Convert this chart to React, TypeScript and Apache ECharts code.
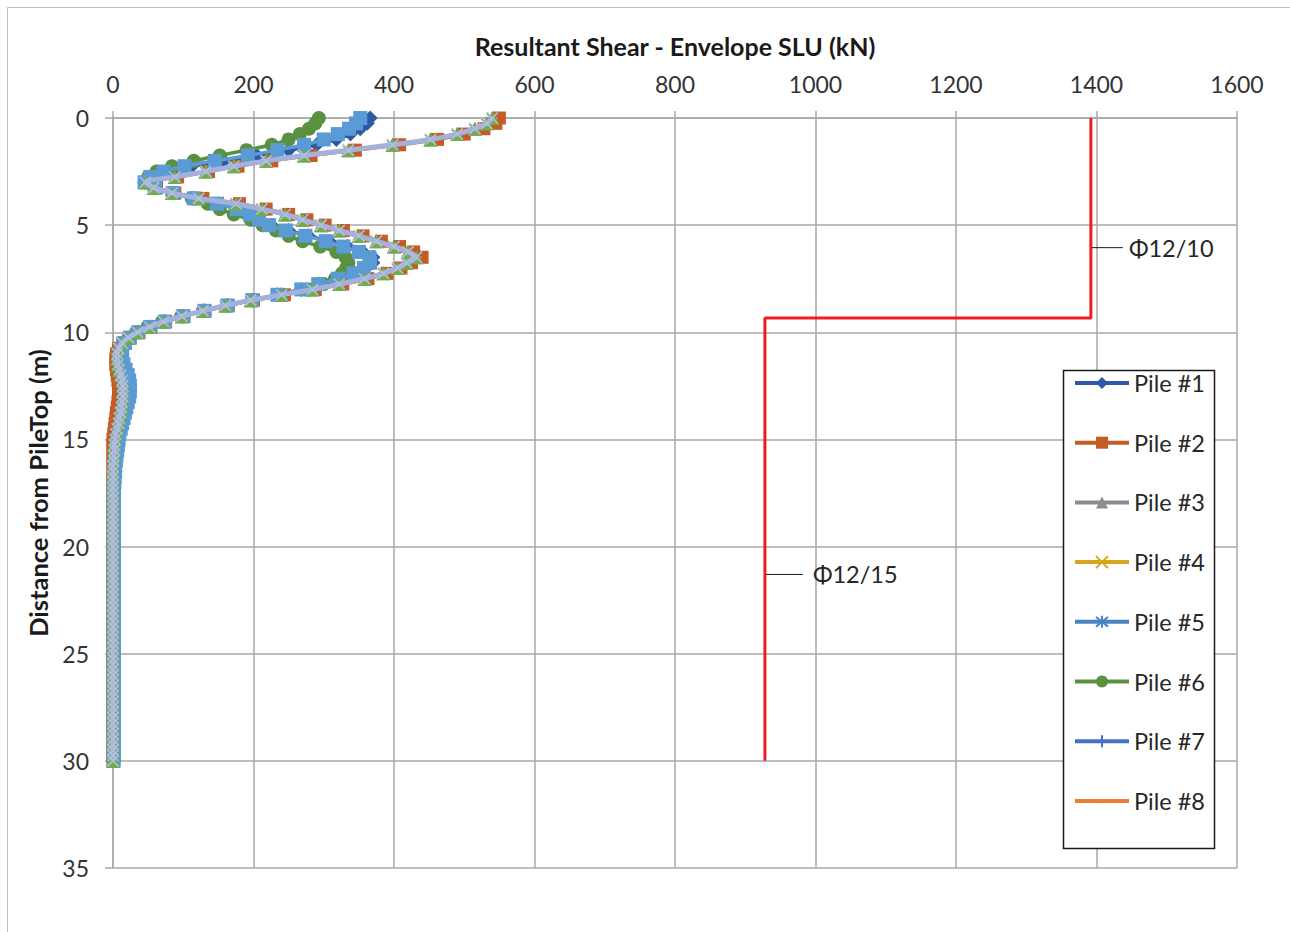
import React, { useEffect, useRef } from "react";
import * as echarts from "echarts";

// Depth below pile top (m)
const depth = [
  0, 0.25, 0.5, 0.75, 1, 1.25, 1.5, 1.75, 2, 2.25, 2.5, 2.75, 3,
  3.25, 3.5, 3.75, 4, 4.25, 4.5, 4.75, 5, 5.25, 5.5, 5.75, 6,
  6.25, 6.5, 6.75, 7, 7.25, 7.5, 7.75, 8, 8.25, 8.5, 8.75, 9,
  9.25, 9.5, 9.75, 10, 10.25, 10.5, 10.75, 11, 11.25, 11.5, 11.75, 12,
  12.25, 12.5, 12.75, 13, 13.25, 13.5, 13.75, 14, 14.25, 14.5, 14.75, 15,
  15.25, 15.5, 15.75, 16, 16.25, 16.5, 16.75, 17, 17.25, 17.5, 17.75, 18,
  18.25, 18.5, 18.75, 19, 19.25, 19.5, 19.75, 20, 20.25, 20.5, 20.75, 21,
  21.25, 21.5, 21.75, 22, 22.25, 22.5, 22.75, 23, 23.25, 23.5, 23.75, 24,
  24.25, 24.5, 24.75, 25, 25.25, 25.5, 25.75, 26, 26.25, 26.5, 26.75, 27,
  27.25, 27.5, 27.75, 28, 28.25, 28.5, 28.75, 29, 29.25, 29.5, 29.75, 30,
];

// Resultant shear (kN) per pile
const shearPile1 = [
  366, 362, 352, 338, 318, 290, 250, 205, 158, 112, 78, 55, 45,
  60, 86, 117, 150, 178, 197, 210, 226, 250, 278, 308, 334,
  356, 370, 370, 360, 344, 322, 294, 268, 234, 198, 163, 130,
  100, 74, 53, 36, 24, 17, 13, 12, 13, 15, 18, 21,
  23, 24, 24, 23, 21, 19, 17, 15, 13, 11, 9, 8,
  7, 6, 5, 4, 3, 3, 2, 2, 1, 1, 1, 1,
  1, 1, 1, 1, 1, 1, 1, 1, 1, 1, 1, 1,
  1, 1, 1, 1, 1, 1, 1, 1, 1, 1, 1, 1,
  1, 1, 1, 1, 1, 1, 1, 1, 1, 1, 1, 1,
  1, 1, 1, 1, 1, 1, 1, 1, 1, 1, 1, 1,
];
const shearPile2 = [
  550, 545, 528, 500, 462, 408, 345, 282, 226, 178, 136, 92, 50,
  62, 88, 128, 180, 218, 250, 276, 302, 328, 356, 382, 408,
  428, 440, 425, 410, 390, 363, 327, 288, 244, 200, 164, 131,
  101, 75, 54, 37, 24, 14, 8, 5, 4, 4, 5, 6,
  7, 8, 8, 8, 7, 6, 5, 4, 3, 2, 1, 0,
  0, 0, 0, 0, 0, 0, 0, 0, 0, 0, 0, 0,
  0, 0, 0, 0, 0, 0, 0, 0, 0, 0, 0, 0,
  0, 0, 0, 0, 0, 0, 0, 0, 0, 0, 0, 0,
  0, 0, 0, 0, 0, 0, 0, 0, 0, 0, 0, 0,
  0, 0, 0, 0, 0, 0, 0, 0, 0, 0, 0, 0,
];
const shearPile3 = [
  540, 532, 515, 490, 452, 398, 335, 272, 218, 172, 132, 88, 46,
  58, 84, 122, 175, 212, 245, 270, 296, 322, 350, 375, 400,
  420, 432, 418, 405, 385, 358, 322, 284, 240, 196, 160, 128,
  98, 72, 52, 35, 22, 13, 8, 6, 6, 7, 9, 11,
  13, 14, 14, 14, 13, 12, 11, 9, 8, 6, 4, 3,
  2, 2, 1, 1, 0, 0, 0, 0, 0, 0, 0, 0,
  0, 0, 0, 0, 0, 0, 0, 0, 0, 0, 0, 0,
  0, 0, 0, 0, 0, 0, 0, 0, 0, 0, 0, 0,
  0, 0, 0, 0, 0, 0, 0, 0, 0, 0, 0, 0,
  0, 0, 0, 0, 0, 0, 0, 0, 0, 0, 0, 0,
];
const shearPile4 = shearPile3;
const shearPile5 = shearPile3;
const shearPile6 = [
  293, 288, 279, 266, 250, 226, 190, 152, 115, 84, 62, 50, 46,
  58, 84, 112, 135, 152, 172, 196, 213, 232, 250, 270, 295,
  318, 331, 335, 332, 326, 316, 300, 278, 240, 200, 163, 128,
  97, 70, 49, 33, 22, 16, 13, 12, 13, 15, 17, 19,
  21, 22, 22, 21, 19, 17, 15, 13, 11, 9, 8, 7,
  6, 5, 4, 3, 3, 2, 2, 1, 1, 1, 1, 1,
  1, 1, 1, 1, 1, 1, 1, 1, 1, 1, 1, 1,
  1, 1, 1, 1, 1, 1, 1, 1, 1, 1, 1, 1,
  1, 1, 1, 1, 1, 1, 1, 1, 1, 1, 1, 1,
  1, 1, 1, 1, 1, 1, 1, 1, 1, 1, 1, 1,
];
const shearPile7 = shearPile3;
const shearPile8 = shearPile3;
// additional (unlabelled) piles shown in the plot
const shearPile9 = [
  352, 346, 336, 320, 300, 272, 234, 192, 145, 102, 72, 53, 45,
  60, 85, 115, 148, 176, 195, 208, 222, 246, 274, 303, 328,
  350, 365, 366, 357, 342, 320, 292, 268, 234, 198, 163, 130,
  100, 74, 53, 36, 24, 17, 13, 12, 13, 15, 18, 21,
  23, 24, 24, 23, 21, 19, 17, 15, 13, 11, 9, 8,
  7, 6, 5, 4, 3, 3, 2, 2, 1, 1, 1, 1,
  1, 1, 1, 1, 1, 1, 1, 1, 1, 1, 1, 1,
  1, 1, 1, 1, 1, 1, 1, 1, 1, 1, 1, 1,
  1, 1, 1, 1, 1, 1, 1, 1, 1, 1, 1, 1,
  1, 1, 1, 1, 1, 1, 1, 1, 1, 1, 1, 1,
];
const shearPile10 = shearPile3;
const shearPile11 = shearPile3;

// Shear resistance of stirrups (kN)
const resistX = [1392, 1392, 928, 928];
const resistDepth = [0, 9.33, 9.33, 30];
const resistLabels = ["Φ12/10", "Φ12/15"];
const resistLabelPos = [
  [1392, 6.05],
  [928, 21.3],
];

const legendNames = ["Pile #1", "Pile #2", "Pile #3", "Pile #4", "Pile #5", "Pile #6", "Pile #7", "Pile #8"];

const FONT = "Lato, 'Liberation Sans', sans-serif";
const GRID_COLOR = "#A9A9A9";

const X_SYM = "path://M0,0L10,10M10,0L0,10";
const AST_SYM = "path://M5,0L5,10M1,1L9,9M9,1L1,9";
const PLUS_SYM = "path://M5,0L5,10M0,5L10,5";
const DASH_SYM = "path://M0,0M0,4L10,4L10,6L0,6ZM10,10";

function pts(vals: number[]) {
  return vals.map((v, i) => [v, depth[i]]);
}

let order = 0;
function pileSeries(name: string, vals: number[], color: string, symbol: string, size: number, stroke = false, lineWidth = 3.5, lineColor?: string) {
  order += 1;
  return {
    name,
    type: "line",
    data: pts(vals),
    smooth: 0.3,
    symbol,
    symbolSize: size,
    lineStyle: { color: lineColor || color, width: lineWidth },
    itemStyle: stroke
      ? { color, borderColor: color, borderWidth: 1.5 }
      : { color, borderWidth: 0 },
    emphasis: { disabled: true },
    z: 2 + order * 0.05,
  };
}

export default function App() {
  const ref = useRef<HTMLDivElement>(null);
  useEffect(() => {
    order = 0;
    const chart = echarts.init(ref.current!, null, { renderer: "svg" });
    const option: any = {
      animation: false,
      backgroundColor: "#ffffff",
      grid: { left: 113, top: 118, right: 53, bottom: 64, containLabel: false },
      xAxis: {
        type: "value",
        position: "top",
        min: 0,
        max: 1600,
        interval: 200,
        axisLine: { show: true, onZero: false, lineStyle: { color: GRID_COLOR, width: 1.5 } },
        axisTick: { show: true, length: 7, lineStyle: { color: GRID_COLOR, width: 1.5 } },
        axisLabel: {
          fontSize: 23,
          color: "#333333",
          fontFamily: FONT,
          margin: 23,
          formatter: (v: number) => String(v),
        },
        splitLine: { show: true, lineStyle: { color: GRID_COLOR, width: 1.5 } },
      },
      yAxis: {
        type: "value",
        inverse: true,
        min: 0,
        max: 35,
        interval: 5,
        axisLine: { show: true, onZero: false, lineStyle: { color: GRID_COLOR, width: 1.5 } },
        axisTick: { show: true, length: 8, lineStyle: { color: GRID_COLOR, width: 1.5 } },
        axisLabel: {
          fontSize: 23,
          color: "#333333",
          fontFamily: FONT,
          margin: 24,
          formatter: (v: number) => String(v),
        },
        splitLine: { show: true, lineStyle: { color: GRID_COLOR, width: 1.5 } },
      },
      legend: {
        data: legendNames,
        orient: "vertical",
        left: 1073,
        top: 371,
        padding: 0,
        itemWidth: 54,
        itemHeight: 15,
        itemGap: 35.7,
        selectedMode: false,
        lineStyle: { width: 4 },
        textStyle: { fontSize: 23.5, color: "#262626", fontFamily: FONT },
        z: 6,
      },
      series: [
        pileSeries("Pile #1", shearPile1, "#2F5AA3", "diamond", 15),
        pileSeries("Pile #2", shearPile2, "#C65B24", "rect", 13),
        pileSeries("Pile #3", shearPile3, "#8C8C8C", "triangle", 14),
        pileSeries("Pile #4", shearPile4, "#D9A520", X_SYM, 11, true),
        pileSeries("Pile #5", shearPile5, "#4A84C4", AST_SYM, 11, true),
        pileSeries("Pile #6", shearPile6, "#5A9140", "circle", 14),
        pileSeries("Pile #7", shearPile7, "#4472C4", PLUS_SYM, 11, true),
        pileSeries("Pile #8", shearPile8, "#EE7C36", DASH_SYM, 11),
        pileSeries("Pile #9", shearPile9, "#5B9BD5", "rect", 14),
        pileSeries("Pile #11", shearPile11, "#70AD47", "triangle", 14),
        pileSeries("Pile #10", shearPile10, "#B3BEE0", X_SYM, 11, true, 5, "#A4B1DA"),
        {
          name: "Resistance",
          type: "line",
          data: resistX.map((x, i) => [x, resistDepth[i]]),
          symbol: "none",
          lineStyle: { color: "#EE1C25", width: 3 },
          emphasis: { disabled: true },
          z: 3,
        },
      ],
    };
    chart.setOption(option);

    const elements: any[] = [
      {
        type: "rect",
        shape: { x: 7.5, y: 7.5, width: 1400, height: 1000 },
        style: { fill: "none", stroke: "#BFBFBF", lineWidth: 1 },
        silent: true,
        z: 0,
      },
      {
        type: "text",
        x: 675,
        y: 46,
        style: {
          text: "Resultant Shear - Envelope SLU (kN)",
          font: `bold 25px ${FONT}`,
          fill: "#1A1A1A",
          textAlign: "center",
          textVerticalAlign: "middle",
        },
        z: 5,
      },
      {
        type: "text",
        x: 38,
        y: 493,
        rotation: Math.PI / 2,
        style: {
          text: "Distance from PileTop (m)",
          font: `bold 25.5px ${FONT}`,
          fill: "#1A1A1A",
          textAlign: "center",
          textVerticalAlign: "middle",
        },
        z: 5,
      },
      {
        type: "rect",
        shape: { x: 1063.5, y: 370.5, width: 151, height: 478 },
        style: { fill: "#ffffff", stroke: "#1A1A1A", lineWidth: 1.5 },
        z: 5,
      },
    ];
    resistLabelPos.forEach((p, k) => {
      const px = chart.convertToPixel({ xAxisIndex: 0, yAxisIndex: 0 }, p) as number[];
      const lineLen = k === 0 ? 32 : 38;
      const gap = k === 0 ? 6 : 10;
      elements.push({
        type: "line",
        shape: { x1: px[0] + 1, y1: px[1], x2: px[0] + lineLen, y2: px[1] },
        style: { stroke: "#1A1A1A", lineWidth: 1 },
        z: 5,
      });
      elements.push({
        type: "text",
        x: px[0] + lineLen + gap,
        y: px[1],
        style: {
          text: resistLabels[k],
          font: `23.5px ${FONT}`,
          fill: "#262626",
          textAlign: "left",
          textVerticalAlign: "middle",
        },
        z: 5,
      });
    });
    chart.setOption({ graphic: elements });
    return () => chart.dispose();
  }, []);
  return (
    <div
      ref={ref}
      style={{ position: "absolute", left: 0, top: 0, width: 1290, height: 932, background: "#fff" }}
    />
  );
}
